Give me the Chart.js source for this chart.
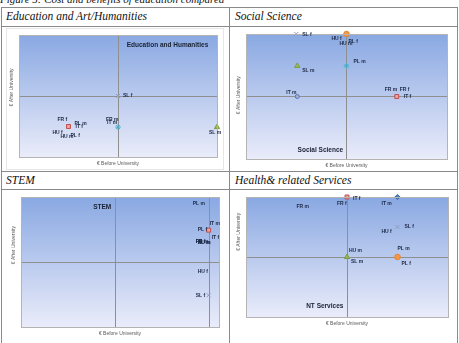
<!DOCTYPE html>
<html><head><meta charset="utf-8">
<script src="https://cdn.jsdelivr.net/npm/chart.js@4"></script>
<style>
body{margin:0;width:459px;height:343px;overflow:hidden;background:#fff;position:relative;font-family:"Liberation Serif","Times New Roman",serif;}
.t{position:absolute;font-style:italic;font-size:11.5px;line-height:14px;color:#111;white-space:nowrap}
.h{position:absolute;background:#8a8a8a;height:1px;left:1px;width:457px}
.v{position:absolute;background:#8a8a8a;width:1px;top:7px;height:336px}
canvas{position:absolute}
</style></head><body>
<div class="t" style="left:0;top:-7px;font-size:11px;line-height:13px">Figure 5: Cost and benefits of education compared</div>
<div class="h" style="top:7px"></div>
<div class="h" style="top:26px"></div>
<div class="h" style="top:171px"></div>
<div class="h" style="top:189px"></div>
<div class="v" style="left:1px"></div>
<div class="v" style="left:229px"></div>
<div class="v" style="left:457px"></div>
<div class="t" id="h0" style="left:6px;top:9px"></div>
<div class="t" id="h1" style="left:235px;top:9px"></div>
<div class="t" id="h2" style="left:6px;top:173px"></div>
<div class="t" id="h3" style="left:235px;top:173px"></div>
<canvas id="c0" width="226" height="143" style="left:2px;top:27px"></canvas>
<canvas id="c1" width="226" height="143" style="left:230px;top:27px"></canvas>
<canvas id="c2" width="226" height="153" style="left:2px;top:190px"></canvas>
<canvas id="c3" width="226" height="153" style="left:230px;top:190px"></canvas>
<script>
// ---- data ----
const cellHeaders = ['Education and Art/Humanities','Social Science','STEM','Health& related Services'];
const chartTitles = ['Education and Humanities','Social Science','STEM','NT Services'];
const seriesLabels = ['FR m','FR f','HU m','HU f','IT m','IT f','PL m','PL f','SL m','SL f'];
const xAxisTitle = '€ Before University';
const yAxisTitle = '€ After University';

const eduX = [0,-50,-50,-50,0,-50,-50,-50,100,0];
const eduY = [-51,-50,-50,-50,-51,-50,-50,-50,-51,0];
const socX = [50,50,0,0,-49,50,0,0,-49,-50];
const socY = [0,0,100,100,0,0,49,100,49,100];
const stemX = [99,99,99,99,99,98,99,99,99,99];
const stemY = [30,30,30,-15,60,49,90,49,30,-51];
const hlthX = [-50,0,0,50,50,0,50,50,0,50];
const hlthY = [100,100,0,50,100,100,0,0,0,50];

// ---- styles ----
const MK = {
  square:{ps:'rect', r:2.8, bg:'#e9a3a2', bd:'#c0504d'},
  tri:{ps:'triangle', r:3, bg:'#9bbb59', bd:'#7a9c3d'},
  cross:{ps:'crossRot', r:2.8, bg:'#8e9cc0', bd:'#8e9cc0'},
  star:{ps:'star', r:2.8, bg:'#4bacc6', bd:'#4bacc6'},
  circ:{ps:'circle', r:2.8, bg:'#f79646', bd:'#e4852f'},
  dot:{ps:'circle', r:2, bg:'#9fb3d8', bd:'#5a76a8'},
  diam:{ps:'rectRot', r:2.6, bg:'#4f81bd', bd:'#3d6aa0'}
};
const cfgs = [
 {xs:eduX, ys:eduY,
  mk:[null,null,null,null,'star','square',null,null,'tri','cross'],
  dx:[-12,-11,-8,-16,-11,7,6,2,-8,5], dy:[-7,-7,10,6,-4,0,-3,9,6,0],
  pad:{left:17,right:11,top:8,bottom:13}, xmin:-100, xmax:100, xgrid:[0],
  tpos:[0.75,0.08], ytf:0.43, frame:[4.5,1.5,217,141]},
 {xs:socX, ys:socY,
  mk:[null,'square',null,'circ','dot',null,'star',null,'tri','cross'],
  dx:[-12,3,-7,-15,-11,7,7,2,5,6], dy:[-7,-7,10,5,-4,0,-4,8,5,1],
  pad:{left:16,right:9,top:7,bottom:11}, xmin:-100, xmax:100, xgrid:[0],
  tpos:[0.37,0.93], ytf:0.49},
 {xs:stemX, ys:stemY,
  mk:[null,null,null,null,null,null,null,'square',null,'cross'],
  dx:[-13,-13,-11,-11,1,4,-16,-11,-11,-13], dy:[-1,-1,0,0,1,7,0,-1,0,0],
  pad:{left:19,right:9,top:7,bottom:16}, xmin:-100, xmax:110, xgrid:[0,100],
  tpos:[0.41,0.08], ytf:0.37},
 {xs:hlthX, ys:hlthY,
  mk:[null,'square','tri',null,'diam',null,'circ',null,null,'cross'],
  dx:[0,-10,2,-16,-16,6,0,4,4,7], dy:[10,7,-6,5,7,2,-8,7,5,0],
  pad:{left:16,right:8,top:7,bottom:26}, xmin:-100, xmax:100, xgrid:[0],
  tpos:[0.39,0.91], ytf:0.29}
];

cellHeaders.forEach((h,i)=>document.getElementById('h'+i).textContent=h);
const cfgById = {};

const deco = {
  id:'deco',
  beforeDraw(chart){
    const c = cfgById[chart.canvas.id]; if(!c) return;
    const ctx = chart.ctx, a = chart.chartArea;
    ctx.save();
    if(c.frame){ctx.strokeStyle='#e6e6e6';ctx.lineWidth=1;ctx.strokeRect(...c.frame);}
    const g = ctx.createLinearGradient(0,a.top,0,a.bottom);
    g.addColorStop(0,'#89a8e2'); g.addColorStop(1,'#eaecfa');
    ctx.fillStyle=g; ctx.fillRect(a.left,a.top,a.right-a.left,a.bottom-a.top);
    ctx.restore();
  },
  afterDatasetsDraw(chart){
    const c = cfgById[chart.canvas.id]; if(!c) return;
    const ctx = chart.ctx, a = chart.chartArea;
    ctx.save();
    ctx.strokeStyle='#b4b4b4'; ctx.lineWidth=1;
    ctx.strokeRect(Math.round(a.left)+.5,Math.round(a.top)+.5,Math.round(a.right-a.left),Math.round(a.bottom-a.top));
    const meta = chart.getDatasetMeta(0);
    ctx.font='bold 5px "Liberation Sans", Arial, sans-serif';
    ctx.fillStyle='#1c2946'; ctx.textBaseline='middle'; ctx.textAlign='left';
    meta.data.forEach((p,i)=>ctx.fillText(seriesLabels[i], p.x+c.dx[i], p.y+c.dy[i]));
    ctx.font='bold 6.5px "Liberation Sans", Arial, sans-serif';
    ctx.fillStyle='#1a2233'; ctx.textAlign='center';
    ctx.fillText(c.title, a.left+c.tpos[0]*(a.right-a.left), a.top+c.tpos[1]*(a.bottom-a.top));
    ctx.font='5px "Liberation Sans", Arial, sans-serif';
    ctx.fillStyle='#595959';
    ctx.fillText(xAxisTitle,(a.left+a.right)/2,a.bottom+6.5);
    ctx.translate(a.left-7, a.top+c.ytf*(a.bottom-a.top));
    ctx.rotate(-Math.PI/2);
    ctx.fillText(yAxisTitle,0,0);
    ctx.restore();
  }
};

cfgs.forEach((c,k)=>{
  c.title = chartTitles[k];
  cfgById['c'+k] = c;
  const pts = c.xs.map((x,i)=>({x, y:c.ys[i]}));
  const m = c.mk.map(n=>n?MK[n]:null);
  new Chart(document.getElementById('c'+k), {
    type:'scatter',
    data:{datasets:[{data:pts, clip:false,
      pointStyle:m.map(s=>s?s.ps:'circle'),
      pointRadius:m.map(s=>s?s.r:0),
      pointHoverRadius:m.map(s=>s?s.r:0),
      backgroundColor:m.map(s=>s?s.bg:'transparent'),
      borderColor:m.map(s=>s?s.bd:'transparent'),
      borderWidth:1}]},
    options:{responsive:false, animation:false, events:[],
      layout:{padding:c.pad},
      plugins:{legend:{display:false}, tooltip:{enabled:false}},
      scales:{
        x:{type:'linear', min:c.xmin, max:c.xmax,
           afterBuildTicks:s=>{s.ticks=c.xgrid.map(v=>({value:v}));},
           ticks:{display:false}, border:{display:false},
           grid:{drawTicks:false, color:'#8f8f8f', lineWidth:1}},
        y:{type:'linear', min:-100, max:100,
           afterBuildTicks:s=>{s.ticks=[{value:0}];},
           ticks:{display:false}, border:{display:false},
           grid:{drawTicks:false, color:'#8f8f8f', lineWidth:1}}
      }},
    plugins:[deco]
  });
});
</script>
</body></html>
